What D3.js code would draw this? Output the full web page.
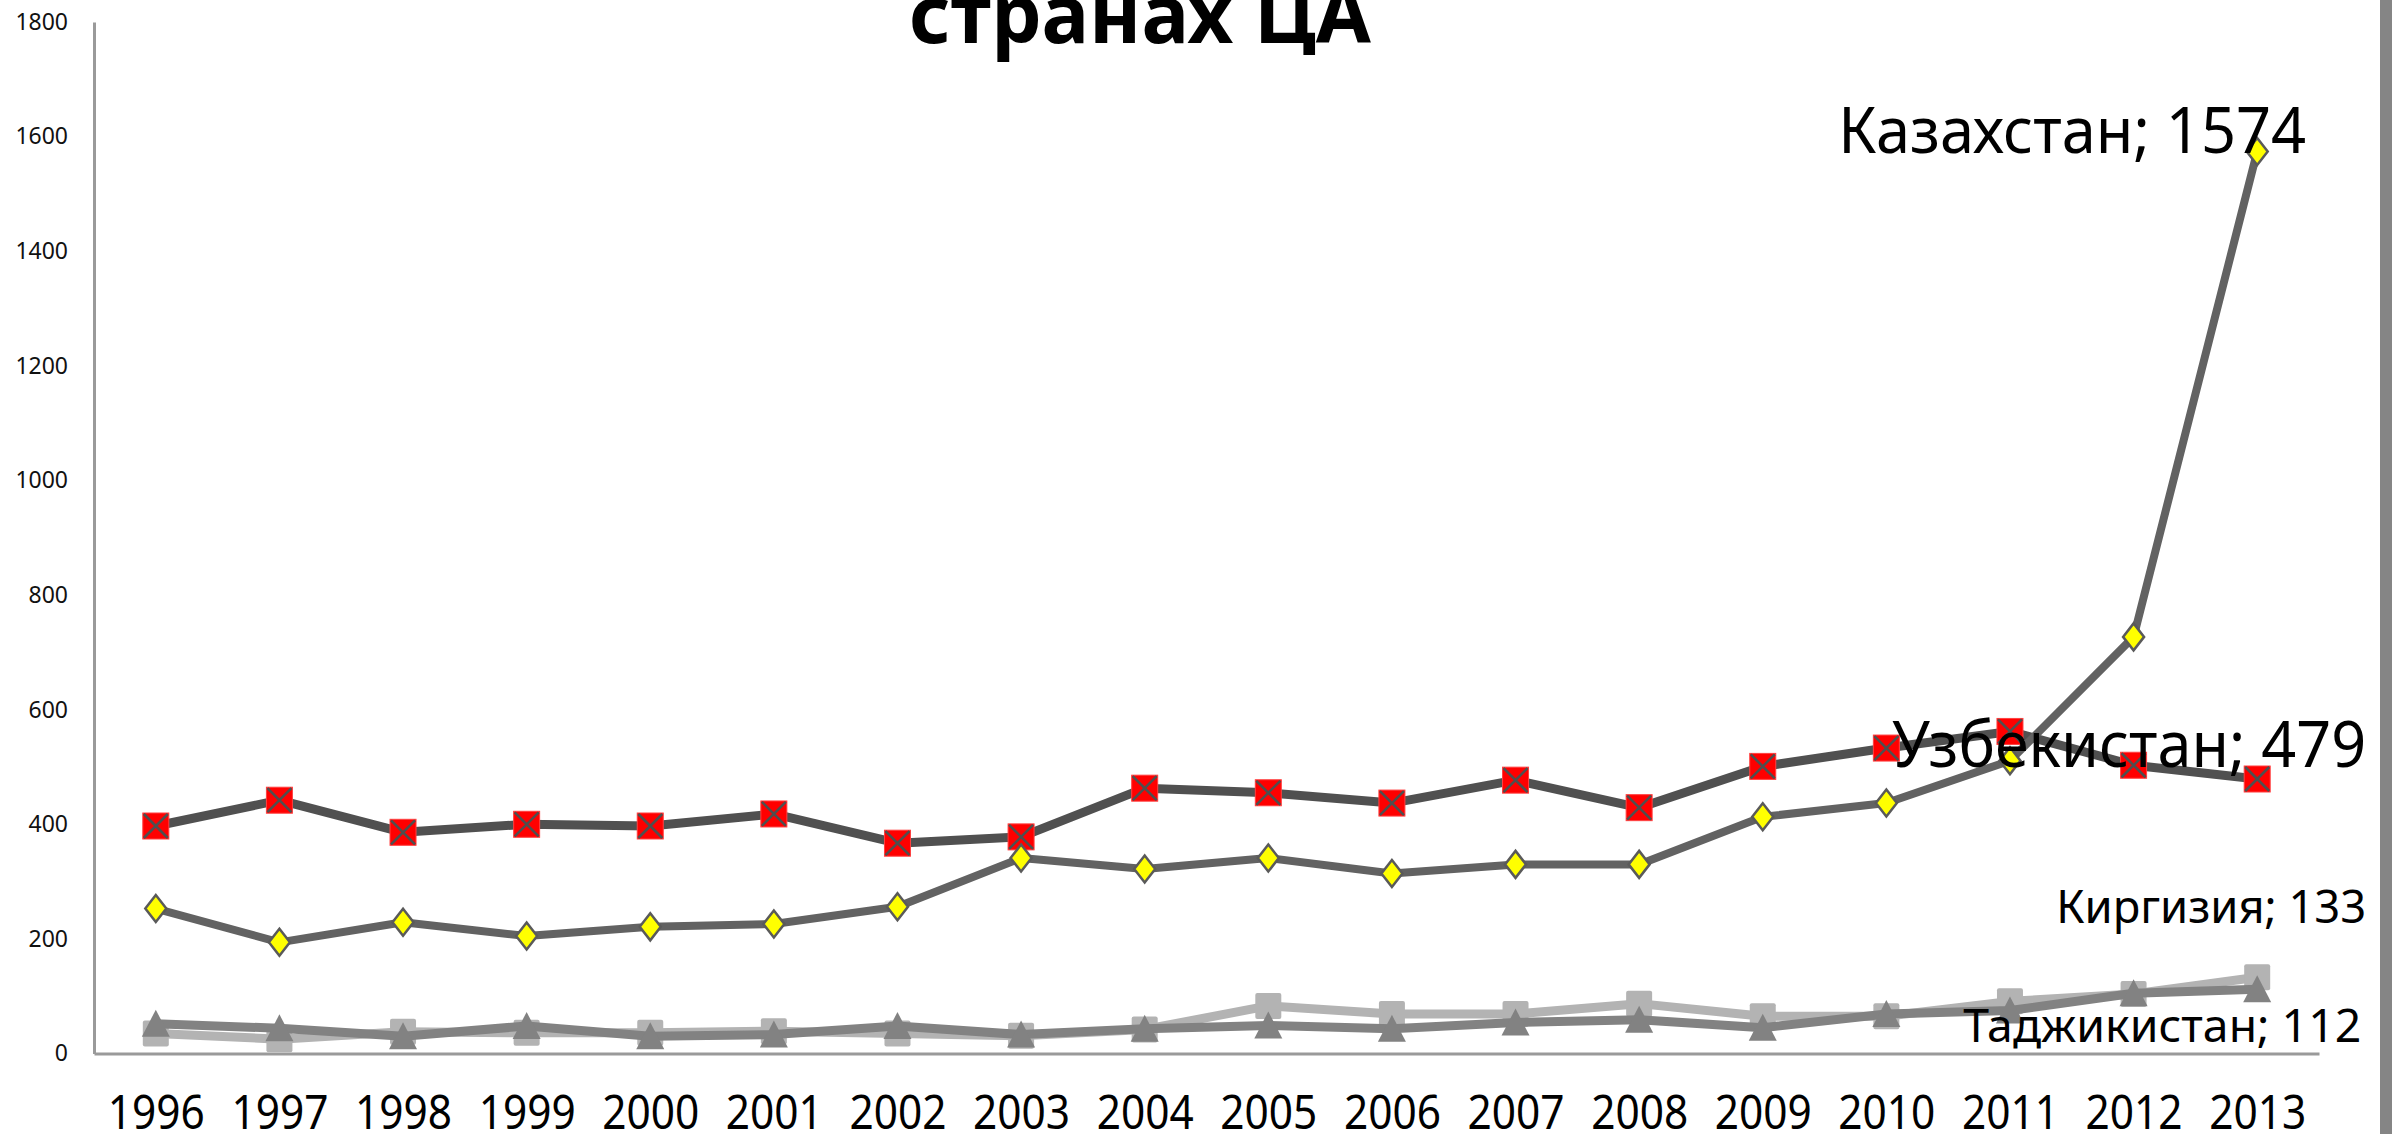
<!DOCTYPE html>
<html>
<head>
<meta charset="utf-8">
<script src="https://cdn.jsdelivr.net/npm/d3@7"></script>
<style>
  body { margin: 0; background: #fff; }
  svg { display: block; font-family: "Noto Sans", "Liberation Sans", sans-serif; }
</style>
</head>
<body>
<div id="chart"></div>
<script>
// Data
const years = ['1996', '1997', '1998', '1999', '2000', '2001', '2002', '2003', '2004',
               '2005', '2006', '2007', '2008', '2009', '2010', '2011', '2012', '2013'];
const uzbekistan = [397, 442, 386, 400, 397, 418, 367, 378, 463, 455, 437, 477, 429, 501, 533, 562, 503, 479];
const kazakhstan = [253, 194, 229, 205, 221, 226, 256, 341, 322, 341, 314, 330, 330, 413, 437, 511, 727, 1574];
const kyrgyzstan = [35, 25, 38, 36, 36, 39, 35, 31, 42, 83, 69, 69, 87, 65, 65, 91, 104, 133];
const tajikistan = [52, 44, 30, 48, 30, 33, 48, 33, 43, 49, 43, 54, 59, 45, 69, 75, 105, 112];
const yTicks = [0, 200, 400, 600, 800, 1000, 1200, 1400, 1600, 1800];
const titleText = 'странах ЦА';

const width = 2392, height = 1134;

const svg = d3.select('#chart')
  .append('svg')
    .attr('width', width)
    .attr('height', height);

svg.append('rect').attr('width', width).attr('height', height).attr('fill', '#fff');

// Scales
const x = d3.scalePoint().domain(years).range([94, 2319]).padding(0.5);
const y = d3.scaleLinear().domain([0, 1800]).range([1053.5, 22]);

// Title (its upper line is cut off in the original)
svg.append('text')
  .attr('x', 1140)
  .attr('y', 43)
  .attr('text-anchor', 'middle')
  .attr('font-size', 80)
  .attr('font-weight', 'bold')
  .attr('textLength', 462)
  .attr('lengthAdjust', 'spacingAndGlyphs')
  .attr('fill', '#000')
  .text(titleText);

// Axes
const yAxis = svg.append('g')
  .attr('transform', `translate(${x.range()[0]},0)`)
  .call(d3.axisLeft(y).tickValues(yTicks).tickSize(0).tickPadding(26).tickFormat(d3.format('d')));
yAxis.select('.domain').attr('stroke', '#9a9a9a').attr('stroke-width', 3);
yAxis.selectAll('text').attr('font-size', 23).attr('fill', '#111')
  .attr('font-family', '"Noto Sans", sans-serif');

const xAxis = svg.append('g')
  .attr('transform', `translate(0,${y(0)})`)
  .call(d3.axisBottom(x).tickSize(0).tickPadding(41));
xAxis.select('.domain').attr('stroke', '#9a9a9a').attr('stroke-width', 3);
xAxis.selectAll('text')
  .attr('font-size', 48)
  .attr('fill', '#000')
  .attr('font-family', '"Noto Sans", sans-serif')
  .attr('textLength', 97)
  .attr('lengthAdjust', 'spacingAndGlyphs');

// Series, drawn in this order (later ones on top)
const series = [
  { name: 'Узбекистан', values: uzbekistan, line: '#505050', lw: 9, marker: 'xsquare',
    dx: 109, dy: -12, fs: 63, tw: 474 },
  { name: 'Казахстан', values: kazakhstan, line: '#626262', lw: 8, marker: 'diamond',
    dx: 49, dy: 1, fs: 63, tw: 468 },
  { name: 'Киргизия', values: kyrgyzstan, line: '#b3b3b3', lw: 9, marker: 'square',
    dx: 109, dy: -54, fs: 45, tw: 310 },
  { name: 'Таджикистан', values: tajikistan, line: '#828282', lw: 9, marker: 'triangle',
    dx: 104, dy: 53, fs: 46, tw: 398 }
];

const line = d3.line()
  .x((d, i) => x(years[i]))
  .y(d => y(d));

series.forEach(s => {
  const g = svg.append('g');

  g.append('path')
    .datum(s.values)
    .attr('fill', 'none')
    .attr('stroke', s.line)
    .attr('stroke-width', s.lw)
    .attr('stroke-linejoin', 'round')
    .attr('d', line);

  const pts = g.selectAll('g.pt')
    .data(s.values)
    .join('g')
      .attr('class', 'pt')
      .attr('transform', (d, i) => `translate(${x(years[i])},${y(d)})`);

  if (s.marker === 'xsquare') {
    pts.append('rect')
      .attr('x', -13).attr('y', -13).attr('width', 26).attr('height', 26)
      .attr('fill', '#ff0000').attr('stroke', '#ff4040').attr('stroke-width', 1);
    pts.append('path')
      .attr('d', 'M-12,-12L12,12M12,-12L-12,12')
      .attr('stroke', '#4f4f4f').attr('stroke-width', 2.5);
  } else if (s.marker === 'diamond') {
    pts.append('path')
      .attr('d', 'M0,-13.5L10.5,0L0,13.5L-10.5,0Z')
      .attr('fill', '#ffff00').attr('stroke', '#5a5a5a').attr('stroke-width', 2.5);
  } else if (s.marker === 'square') {
    pts.append('rect')
      .attr('x', -13).attr('y', -13).attr('width', 26).attr('height', 26)
      .attr('rx', 2).attr('fill', '#b3b3b3');
  } else {
    pts.append('path')
      .attr('d', 'M0,-14L14,13L-14,13Z')
      .attr('fill', '#828282');
  }
});

// End-of-line data labels
series.forEach(s => {
  const last = s.values.length - 1;
  svg.append('text')
    .attr('x', x(years[last]) + s.dx)
    .attr('y', y(s.values[last]) + s.dy)
    .attr('text-anchor', 'end')
    .attr('font-size', s.fs)
    .attr('textLength', s.tw)
    .attr('lengthAdjust', 'spacingAndGlyphs')
    .attr('fill', '#000')
    .text(`${s.name}; ${s.values[last]}`);
});

// Grey strip at the right edge of the slide
svg.append('rect')
  .attr('x', 2380).attr('y', 0).attr('width', 12).attr('height', height)
  .attr('fill', '#858585');
</script>
</body>
</html>
